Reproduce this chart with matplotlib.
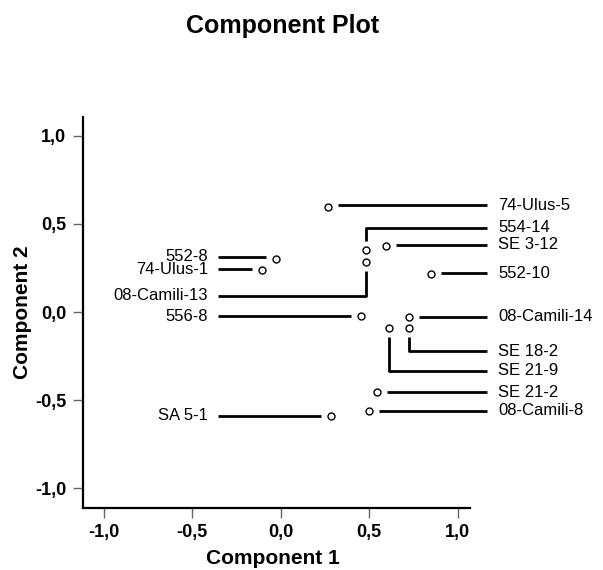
import matplotlib
matplotlib.use("Agg")
import matplotlib.pyplot as plt

plt.rcParams["font.family"] = ["Liberation Sans", "DejaVu Sans"]

# component loadings
names = ["74-Ulus-5", "554-14", "08-Camili-13", "SE 3-12", "552-10", "552-8",
         "74-Ulus-1", "556-8", "08-Camili-14", "SE 18-2", "SE 21-9",
         "SE 21-2", "08-Camili-8", "SA 5-1"]
comp1 = [0.268, 0.480, 0.480, 0.594, 0.847, -0.027,
         -0.105, 0.451, 0.723, 0.723, 0.610,
         0.543, 0.498, 0.284]
comp2 = [0.597, 0.351, 0.283, 0.376, 0.217, 0.299,
         0.238, -0.021, -0.030, -0.089, -0.089,
         -0.453, -0.561, -0.589]

ticks = [-1.0, -0.5, 0.0, 0.5, 1.0]
tick_labels = ["-1,0", "-0,5", "0,0", "0,5", "1,0"]

# label placement (side, y of leader line, leader bends vertically first)
label_side = ["r", "r", "l", "r", "r", "l", "l", "l", "r", "r", "r", "r", "r", "l"]
label_y = [0.606, 0.478, 0.091, 0.38, 0.219, 0.312, 0.242, -0.023, -0.027,
           -0.221, -0.334, -0.455, -0.559, -0.588]
label_bend = [False, True, True, False, False, False, False, False, False,
              True, True, False, False, False]

fig = plt.figure(figsize=(6.03, 5.70), dpi=100)
ax = fig.add_axes([0.1376, 0.1096, 0.7794 - 0.1376, 0.7947 - 0.1096])
ax.set_xlim(-1.1175, 1.069)
ax.set_ylim(-1.108, 1.105)

ax.plot(comp1, comp2, "o", ms=5, mfc="white", mec="black", mew=1.0, zorder=3)

right_end, right_text = 1.163, 1.227
left_start, left_text = -0.357, -0.41
hgap, vgap = 0.056, 0.051

for n, x, y, side, ly, bend in zip(names, comp1, comp2, label_side, label_y, label_bend):
    if side == "r":
        if bend:
            y0 = y + vgap if ly > y else y - vgap
            xs, ys = [x, x, right_end], [y0, ly, ly]
        else:
            xs, ys = [x + hgap, right_end], [ly, ly]
        ax.text(right_text, ly, n, ha="left", va="center", fontsize=12)
    else:
        if bend:
            y0 = y + vgap if ly > y else y - vgap
            xs, ys = [left_start, x, x], [ly, ly, y0]
        else:
            xs, ys = [left_start, x - hgap], [ly, ly]
        ax.text(left_text, ly, n, ha="right", va="center", fontsize=12)
    ax.plot(xs, ys, color="black", lw=2.0, clip_on=False, solid_capstyle="butt")

ax.set_xticks(ticks)
ax.set_xticklabels(tick_labels)
ax.set_yticks(ticks)
ax.set_yticklabels(tick_labels)
ax.tick_params(length=7, width=1, color="#666666", labelsize=13, pad=5)
for lab in ax.get_xticklabels() + ax.get_yticklabels():
    lab.set_fontweight("bold")

for s in ["top", "right"]:
    ax.spines[s].set_visible(False)
for s in ["left", "bottom"]:
    ax.spines[s].set_linewidth(1.6)

fig.text(0.469, 0.954, "Component Plot", ha="center", va="center",
         fontsize=18, fontweight="bold")
fig.text(0.452, 0.021, "Component 1", ha="center", va="center",
         fontsize=15, fontweight="bold")
fig.text(0.0365, 0.453, "Component 2", ha="center", va="center",
         fontsize=15, fontweight="bold", rotation=90)

fig.savefig("out.png", dpi=100)
